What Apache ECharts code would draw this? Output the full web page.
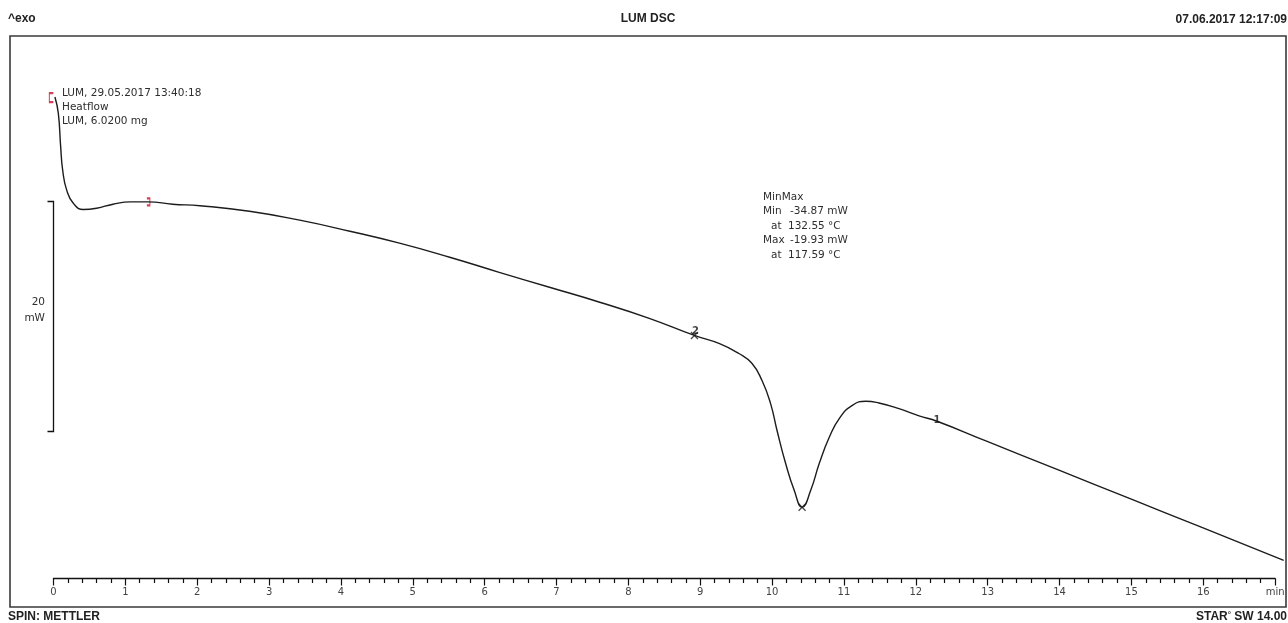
<!DOCTYPE html>
<html><head><meta charset="utf-8">
<script src="https://cdn.jsdelivr.net/npm/echarts@6/dist/echarts.min.js"></script>
<style>html,body{margin:0;padding:0;background:#fff}#c{width:1288px;height:623px}</style>
</head><body><div id="c"></div>
<script>
// ---- data (time in min, heat flow in mW) ----
const timeMin = [0.02,0.067,0.10,0.128,0.184,0.276,0.415,0.60,0.83,1.07,1.32,1.66,2.04,2.73,3.43,4.13,4.82,5.52,6.21,6.91,7.61,8.30,8.93,9.28,9.55,9.73,9.87,9.99,10.08,10.20,10.32,10.43,10.55,10.67,10.81,10.95,11.13,11.32,11.50,11.78,12.06,12.31,13.0,14.0,15.0,16.0,17.14];
const heatflowMW = [0.80,-0.61,-3.54,-5.57,-7.30,-8.44,-8.98,-8.87,-8.52,-8.32,-8.32,-8.52,-8.65,-9.13,-9.91,-10.87,-11.91,-13.13,-14.44,-15.74,-17.04,-18.44,-19.93,-20.64,-21.50,-22.35,-23.83,-25.83,-28.17,-31.04,-33.39,-34.87,-33.39,-31.04,-28.76,-27.13,-26.00,-25.65,-25.80,-26.29,-26.92,-27.39,-29.12,-31.62,-34.12,-36.62,-39.48];
const xTickLabels = ['0','1','2','3','4','5','6','7','8','9','10','11','12','13','14','15','16','min'];
const markerStart = [-0.03, 0.74];
const markerEval = [1.322, -8.32];
const markerMax = [8.93, -19.93];
const markerMin = [10.43, -34.87];
const markerOne = [12.31, -27.39];
const scaleBarTopMW = -8.25;
const scaleBarSpanMW = 20;
const headerTexts = ['^exo', 'LUM DSC', '07.06.2017 12:17:09'];
const curveInfo = ['LUM, 29.05.2017 13:40:18', 'Heatflow', 'LUM, 6.0200 mg'];
const minMaxLabels = ['MinMax', 'Min', 'at', 'Max', 'at'];
const minMaxValues = ['', '-34.87 mW', '132.55 °C', '-19.93 mW', '117.59 °C'];

const chart = echarts.init(document.getElementById('c'), null, {renderer: 'canvas'});
const PXMIN = 71.86;
const TXT = '#2e2e2e';
const small = {fontFamily: 'DejaVu Sans', fontSize: 10.5, color: TXT};

chart.setOption({
  animation: false,
  backgroundColor: '#fff',
  grid: [
    {left: 53.5, top: 36, width: 17.2 * PXMIN, height: 543},
    {left: 53.5, top: 36, width: 17 * PXMIN, height: 542.5}
  ],
  xAxis: [
    {gridIndex: 0, type: 'value', min: 0, max: 17.2, show: false},
    {gridIndex: 1, type: 'value', min: 0, max: 17, interval: 1,
     axisLine: {show: true, lineStyle: {color: '#111', width: 1.3}},
     axisTick: {show: true, inside: false, length: 7, lineStyle: {color: '#111', width: 1.2}},
     minorTick: {show: true, splitNumber: 5, length: 4.5, lineStyle: {color: '#111', width: 1.2}},
     splitLine: {show: false},
     axisLabel: {show: true, margin: 9, fontFamily: 'DejaVu Sans', fontSize: 10, color: '#444',
       showMinLabel: true, showMaxLabel: true,
       formatter: v => xTickLabels[Math.round(v)] }}
  ],
  yAxis: [
    {gridIndex: 0, type: 'value', min: -41.1, max: 6.1, show: false},
    {gridIndex: 1, type: 'value', min: 0, max: 1, show: false}
  ],
  series: [
    {type: 'line', xAxisIndex: 0, yAxisIndex: 0, data: timeMin.map((t, i) => [t, heatflowMW[i]]),
     symbol: 'none', smooth: 0.5, clip: false, lineStyle: {color: '#1c1c1c', width: 1.4}},
    {type: 'scatter', xAxisIndex: 0, yAxisIndex: 0, data: [markerMax, markerMin], clip: false,
     symbol: 'path://M0,0L10,10M10,0L0,10', symbolSize: 7,
     itemStyle: {color: 'transparent', borderColor: '#1c1c1c', borderWidth: 1.3}},
    {type: 'scatter', xAxisIndex: 0, yAxisIndex: 0, data: [markerStart], clip: false,
     symbol: 'path://M4,0L0,0L0,10L4,10', symbolSize: [4, 9],
     itemStyle: {color: 'transparent', borderColor: '#c8102e', borderWidth: 1.5}},
    {type: 'scatter', xAxisIndex: 0, yAxisIndex: 0, data: [markerEval], clip: false,
     symbol: 'path://M0,0L3,0L3,8L0,8', symbolSize: [3, 7],
     itemStyle: {color: 'transparent', borderColor: '#c8102e', borderWidth: 1.5}},
    {type: 'scatter', xAxisIndex: 0, yAxisIndex: 0, clip: false,
     data: [{value: markerOne, name: '1', label: {offset: [0, -1]}}, {value: markerMax, name: '2', label: {offset: [1, -4]}}],
     symbol: 'circle', symbolSize: 1, itemStyle: {color: 'transparent'},
     label: {show: true, position: 'inside', formatter: p => p.name,
       fontFamily: 'DejaVu Sans', fontWeight: 'bold', fontSize: 10, color: '#111'}}
  ]
});

const pTop = chart.convertToPixel({gridIndex: 0}, [0, scaleBarTopMW]);
const pBot = chart.convertToPixel({gridIndex: 0}, [0, scaleBarTopMW - scaleBarSpanMW]);
const bx = Math.round(pTop[0]) - 0.5;
const yT = Math.round(pTop[1]) + 0.5, yB = Math.round(pBot[1]) + 0.5;
const yMid = (yT + yB) / 2;
const hdr = {fontFamily: 'Liberation Sans', fontWeight: 'bold', fontSize: 12, fill: '#222'};

const graphic = [
  {type: 'rect', shape: {x: 10, y: 36, width: 1276, height: 571}, style: {fill: 'none', stroke: '#3a3a3a', lineWidth: 1.6}, silent: true},
  {type: 'text', left: 8, top: 13, style: Object.assign({text: headerTexts[0]}, hdr)},
  {type: 'text', x: 648, y: 19, style: Object.assign({text: headerTexts[1], textAlign: 'center', textVerticalAlign: 'middle'}, hdr)},
  {type: 'text', x: 1287, y: 19.5, style: Object.assign({text: headerTexts[2], textAlign: 'right', textVerticalAlign: 'middle'}, hdr)},
  {type: 'text', x: 8, y: 617, style: Object.assign({text: 'SPIN: METTLER', textAlign: 'left', textVerticalAlign: 'middle'}, hdr)},
  {type: 'text', x: 1287, y: 617, style: {text: '{k|S}{r|TA}{k|R}{d|°} SW 14.00', textAlign: 'right', textVerticalAlign: 'middle',
    fontFamily: 'Liberation Sans', fontWeight: 'bold', fontSize: 12, fill: '#222',
    rich: {k: {fontFamily: 'Liberation Sans', fontWeight: 'bold', fontSize: 12, color: '#222'},
           r: {fontFamily: 'Liberation Sans', fontWeight: 'bold', fontSize: 12, color: '#c8102e'},
           d: {fontFamily: 'Liberation Sans', fontWeight: 'bold', fontSize: 8, color: '#c8102e', verticalAlign: 'top'}}}},
  // scale bar
  {type: 'polyline', shape: {points: [[bx - 6, yT], [bx, yT], [bx, yB], [bx - 6, yB]]}, style: {stroke: '#111', lineWidth: 1.3, fill: 'none'}, silent: true},
  {type: 'text', x: 45, y: yMid - 14, style: {text: '20', textAlign: 'right', textVerticalAlign: 'middle', fontFamily: 'DejaVu Sans', fontSize: 10.5, fill: TXT}},
  {type: 'text', x: 45, y: yMid + 2, style: {text: 'mW', textAlign: 'right', textVerticalAlign: 'middle', fontFamily: 'DejaVu Sans', fontSize: 10.5, fill: TXT}}
];
curveInfo.forEach((s, i) => graphic.push({type: 'text', x: 62, y: 93 + i * 14.2,
  style: {text: s, textVerticalAlign: 'middle', fontFamily: small.fontFamily, fontSize: small.fontSize, fill: TXT}}));
minMaxLabels.forEach((s, i) => {
  graphic.push({type: 'text', x: s === 'at' ? 771 : 763, y: 197 + i * 14.5,
    style: {text: s, textVerticalAlign: 'middle', fontFamily: small.fontFamily, fontSize: small.fontSize, fill: TXT}});
  if (minMaxValues[i]) graphic.push({type: 'text', x: minMaxValues[i].startsWith('-') ? 790 : 788, y: 197 + i * 14.5,
    style: {text: minMaxValues[i], textVerticalAlign: 'middle', fontFamily: small.fontFamily, fontSize: small.fontSize, fill: TXT}});
});
chart.setOption({graphic: graphic});
</script></body></html>
